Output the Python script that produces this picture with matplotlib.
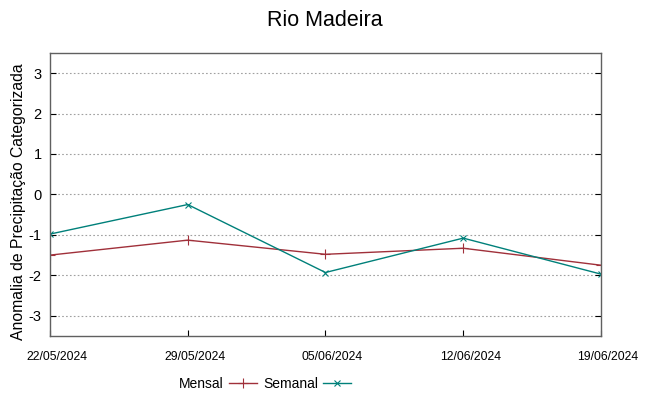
import matplotlib
matplotlib.use('Agg')
import matplotlib.pyplot as plt
from matplotlib.transforms import ScaledTranslation

datas = ['22/05/2024', '29/05/2024', '05/06/2024', '12/06/2024', '19/06/2024']
mensal = [-1.50, -1.13, -1.48, -1.33, -1.75]
semanal = [-0.98, -0.25, -1.93, -1.08, -1.97]
yticks = [-3, -2, -1, 0, 1, 2, 3]

plt.rcParams['font.family'] = ['Liberation Sans', 'DejaVu Sans']
plt.rcParams['axes.unicode_minus'] = False

fig = plt.figure(figsize=(6.49, 3.96), dpi=100)
ax = fig.add_axes([0.077, 0.1515, 0.849, 0.715])

x = list(range(len(datas)))
ax.plot(x, mensal, color='#a0303a', lw=1.0, marker='+', ms=7, mew=0.8, label='Mensal')
ax.plot(x, semanal, color='#00807a', lw=1.0, marker='x', ms=5, mew=0.8, label='Semanal')

ax.set_xlim(0, len(datas) - 1)
ax.set_ylim(-3.5, 3.5)
ax.set_xticks(x)
ax.set_xticklabels(datas, fontsize=8.8)
ax.set_yticks(yticks)
ax.tick_params(axis='y', direction='in', right=True, length=4, labelsize=10.5, pad=6)
ax.tick_params(axis='x', direction='in', length=4, pad=11)
ax.grid(axis='y', color='#a0a0a0', ls=(0, (1.5, 2)), lw=0.8)
for s in ax.spines.values():
    s.set_color('#606060')
    s.set_linewidth(1.0)

ax.set_ylabel('Anomalia de Precipitação Categorizada', fontsize=11.3, va='center')
ax.yaxis.set_label_coords(-0.058, 0.475)
fig.suptitle('Rio Madeira', fontsize=15.5, y=0.975)

ax.legend(loc='upper center', bbox_to_anchor=(0.39, -0.1), ncol=2, frameon=False,
          markerfirst=False, fontsize=10, handlelength=2.0,
          columnspacing=0.45, handletextpad=0.35)

# gnuplot desloca os rotulos de data um pouco para a direita
fig.canvas.draw()
for lbl in ax.get_xticklabels():
    lbl.set_transform(lbl.get_transform() + ScaledTranslation(0.07, 0, fig.dpi_scale_trans))

fig.savefig('out.png', dpi=100)
